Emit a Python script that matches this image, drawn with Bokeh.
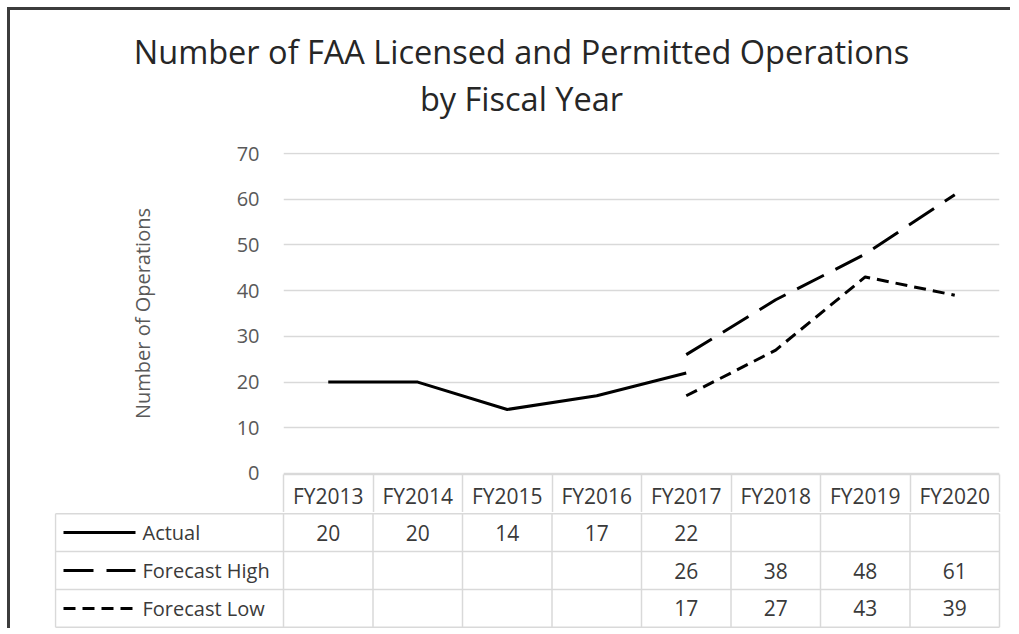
import numpy as np
from bokeh.plotting import figure
from bokeh.models import Range1d, FixedTicker
from bokeh.layouts import column
from bokeh.embed import file_html
from bokeh.resources import INLINE
from bokeh.core.properties import value

# ---------------- data ----------------
categories = ["FY2013", "FY2014", "FY2015", "FY2016", "FY2017", "FY2018", "FY2019", "FY2020"]
actual = [20, 20, 14, 17, 22, None, None, None]
forecast_high = [None, None, None, None, 26, 38, 48, 61]
forecast_low = [None, None, None, None, 17, 27, 43, 39]
series_names = ["Actual", "Forecast High", "Forecast Low"]
y_ticks = [0, 10, 20, 30, 40, 50, 60, 70]
title_lines = ["Number of FAA Licensed and Permitted Operations", "by Fiscal Year"]
y_label = "Number of Operations"

# ---------------- styling ----------------
FONT = "Open Sans"
TXT = "#3a3a3a"
AXT = "#595959"
GRID = "#d9d9d9"
DASHES = ["solid", "30 13", "12 7"]
LW = 3
W = 1000

n = len(categories)
xc = np.arange(n) + 0.5
borders = list(range(n + 1))


def nanify(v):
    return np.array([np.nan if a is None else a for a in v], dtype=float)


series = [actual, forecast_high, forecast_low]

# ---------------- title block ----------------
TH = 128
tt = figure(width=W, height=TH, x_range=Range1d(0, W), y_range=Range1d(TH, 0),
            output_backend="svg", toolbar_location=None, x_axis_location=None, y_axis_location=None,
            frame_align=False, min_border=0)
tt.outline_line_color = None
tt.grid.visible = False
tt.text(x=[511, 511], y=[41, 88], text=title_lines, text_font=value(FONT),
        text_font_size="32.5px", text_color="#262626", text_align="center",
        text_baseline="alphabetic")

# ---------------- main chart (header row drawn as the x axis) ----------------
p = figure(width=W, height=374, x_range=Range1d(0, n), y_range=Range1d(-0.22, 70.22),
           output_backend="svg", toolbar_location=None, frame_align=False,
           min_border_left=273, min_border_right=11, min_border_top=14, min_border_bottom=38)
p.outline_line_color = None
p.xgrid.visible = False
p.ygrid.grid_line_color = GRID
p.ygrid.grid_line_width = 1.5

p.yaxis.ticker = FixedTicker(ticks=y_ticks)
p.yaxis.axis_line_color = None
p.yaxis.major_tick_line_color = None
p.yaxis.minor_tick_line_color = None
p.yaxis.major_tick_out = 0
p.yaxis.major_label_standoff = 24
p.yaxis.major_label_text_font = FONT
p.yaxis.major_label_text_font_size = "20px"
p.yaxis.major_label_text_color = AXT
p.yaxis.axis_label = y_label
p.yaxis.axis_label_text_font = FONT
p.yaxis.axis_label_text_font_size = "20px"
p.yaxis.axis_label_text_font_style = "normal"
p.yaxis.axis_label_text_color = AXT
p.yaxis.axis_label_standoff = 78

p.xaxis.ticker = FixedTicker(ticks=list(xc), minor_ticks=borders)
p.xaxis.major_label_overrides = {float(x): c for x, c in zip(xc, categories)}
p.xaxis.axis_line_color = GRID
p.xaxis.axis_line_width = 1.5
p.xaxis.major_tick_line_color = None
p.xaxis.minor_tick_line_color = GRID
p.xaxis.minor_tick_line_width = 1.5
p.xaxis.minor_tick_in = 0
p.xaxis.minor_tick_out = 38
p.xaxis.major_tick_in = 0
p.xaxis.major_tick_out = 0
p.xaxis.major_label_standoff = -31
p.xaxis.major_label_text_font = FONT
p.xaxis.major_label_text_font_size = "21px"
p.xaxis.major_label_text_color = TXT

for vals, dash in zip(series, DASHES):
    p.line(xc, nanify(vals), line_color="black", line_width=LW, line_dash=dash,
           line_join="round", line_cap="butt")

# ---------------- data table rows ----------------
ppu = 716 / n
t_left = -(283 - 54) / ppu
t_right = (1001 - 283) / ppu
tab_left = -(283 - 55) / ppu
t = figure(width=W, height=116, x_range=Range1d(t_left, t_right), y_range=Range1d(4.03, 0.97),
           output_backend="svg", toolbar_location=None, x_axis_location=None, y_axis_location=None,
           frame_align=False,
           min_border_left=44, min_border_right=9, min_border_top=0, min_border_bottom=0)
t.outline_line_color = None
t.grid.visible = False

t.segment(x0=borders, y0=[1] * len(borders), x1=borders, y1=[4] * len(borders),
          line_color=GRID, line_width=1.5)
t.segment(x0=[tab_left] * 4, y0=[1, 2, 3, 4], x1=[n] * 4, y1=[1, 2, 3, 4],
          line_color=GRID, line_width=1.5)
t.segment(x0=[tab_left], y0=[1], x1=[tab_left], y1=[4], line_color=GRID, line_width=1.5)

leg_x0 = -(283 - 63) / ppu
leg_x1 = -(283 - 135) / ppu
leg_tx = -(283 - 142) / ppu
for r, (name, vals, dash) in enumerate(zip(series_names, series, DASHES)):
    yc = r + 1.5
    t.line([leg_x0, leg_x1], [yc, yc], line_color="black", line_width=LW, line_dash=dash)
    t.text(x=[leg_tx], y=[yc], text=[name], text_font=value(FONT), text_font_size="20px",
           text_color=TXT, text_align="left", text_baseline="middle")
    xs = [x for x, v in zip(xc, vals) if v is not None]
    ts = [str(v) for v in vals if v is not None]
    t.text(x=xs, y=[yc] * len(xs), text=ts, text_font=value(FONT), text_font_size="21px",
           text_color=TXT, text_align="center", text_baseline="middle")

inner = column(tt, p, t, spacing=0,
               styles={"border-top": "3px solid #3c3c3c", "border-left": "3px solid #3c3c3c"})
layout = column(inner, styles={"padding-top": "7px", "padding-left": "7px"})

open("out.html", "w").write(file_html(layout, INLINE))
